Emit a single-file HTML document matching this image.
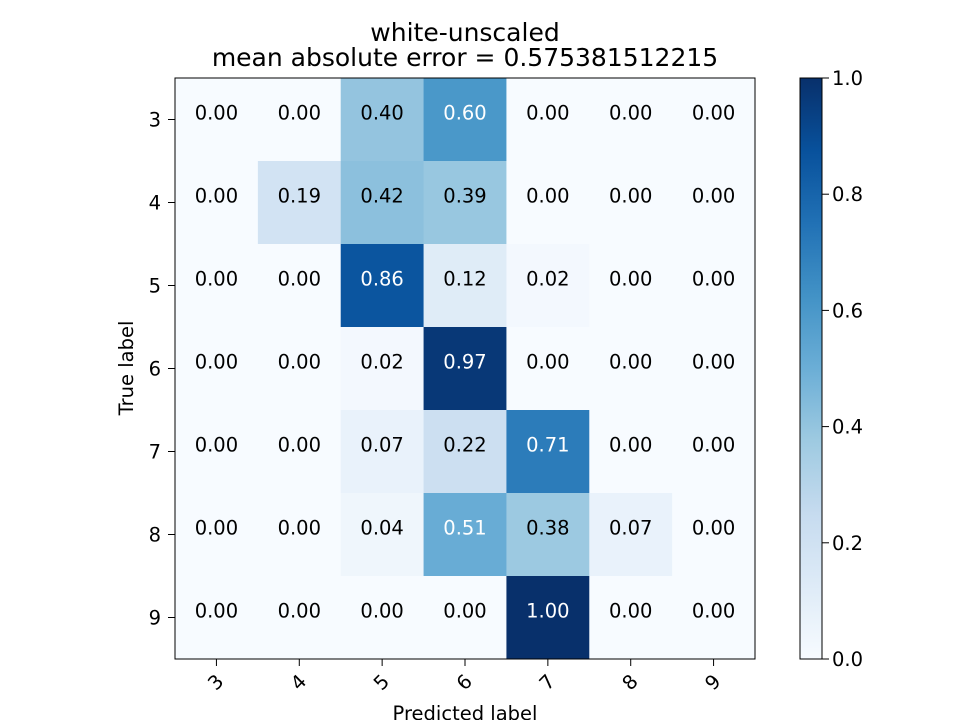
<!DOCTYPE html>
<html><head><meta charset="utf-8"><style>
html,body{margin:0;padding:0;background:#fff;}
svg{display:block;font-family:"DejaVu Sans","Liberation Sans",sans-serif;}
</style></head><body>
<svg id="chart" width="960" height="720" viewBox="0 0 960 720">
<defs>
<linearGradient id="cbgrad" x1="0" y1="1" x2="0" y2="0">
<stop offset="0" stop-color="#f7fbff"/><stop offset="0.125" stop-color="#deebf7"/>
<stop offset="0.25" stop-color="#c6dbef"/><stop offset="0.375" stop-color="#9ecae1"/>
<stop offset="0.5" stop-color="#6baed6"/><stop offset="0.625" stop-color="#4292c6"/>
<stop offset="0.75" stop-color="#2171b5"/><stop offset="0.875" stop-color="#08519c"/>
<stop offset="1" stop-color="#08306b"/>
</linearGradient>
</defs>
<text x="465" y="41" text-anchor="middle" font-size="25">white-unscaled</text>
<text x="465" y="66" text-anchor="middle" font-size="25">mean absolute error = 0.575381512215</text>
<g id="cells"></g>
<rect x="175" y="78" width="580" height="581" fill="none" stroke="#000" stroke-width="1"/>
<g id="axes"></g>
<text x="465" y="720" text-anchor="middle" font-size="19.5">Predicted label</text>
<text transform="translate(133,368) rotate(-90)" text-anchor="middle" font-size="19.5">True label</text>
<rect x="800" y="78" width="22" height="581" fill="url(#cbgrad)" stroke="#000" stroke-width="1"/>
<g id="cbticks"></g>
</svg>
<script>
const labels = ["3","4","5","6","7","8","9"];
const row3 = [0.00,0.00,0.40,0.60,0.00,0.00,0.00];
const row4 = [0.00,0.19,0.42,0.39,0.00,0.00,0.00];
const row5 = [0.00,0.00,0.86,0.12,0.02,0.00,0.00];
const row6 = [0.00,0.00,0.02,0.97,0.00,0.00,0.00];
const row7 = [0.00,0.00,0.07,0.22,0.71,0.00,0.00];
const row8 = [0.00,0.00,0.04,0.51,0.38,0.07,0.00];
const row9 = [0.00,0.00,0.00,0.00,1.00,0.00,0.00];
const matrix = [row3,row4,row5,row6,row7,row8,row9];
const cbTicks = [0.0,0.2,0.4,0.6,0.8,1.0];

const NS="http://www.w3.org/2000/svg";
const X0=175,Y0=78,W=580,H=581;
const cw=W/labels.length, ch=H/labels.length;
const xPos=i=>X0+i*cw, yPos=i=>Y0+i*ch;
const cbY=v=>659-v*581;
const stops=[[247,251,255],[222,235,247],[198,219,239],[158,202,225],[107,174,214],[66,146,198],[33,113,181],[8,81,156],[8,48,107]];
function blues(v){v=Math.max(0,Math.min(1,v));const p=v*8,i=Math.min(7,Math.floor(p)),f=p-i;
 const a=stops[i],b=stops[i+1];return `rgb(${a.map((c,k)=>Math.round(c+(b[k]-c)*f)).join(",")})`;}
function mk(tag,attrs,parent,text){const e=document.createElementNS(NS,tag);for(const k in attrs)e.setAttribute(k,attrs[k]);if(text!==undefined)e.textContent=text;parent.appendChild(e);return e;}
const cells=document.getElementById("cells"), axes=document.getElementById("axes"), cbt=document.getElementById("cbticks");
const mx=Math.max(...matrix.flat());
matrix.forEach((row,r)=>row.forEach((v,c)=>{
 const rc=mk("rect",{x:xPos(c),y:yPos(r),width:cw+0.5,height:ch+0.5,fill:blues(v)},cells);
 
 
 const t=mk("text",{x:xPos(c)+cw/2,y:yPos(r)+ch/2,"text-anchor":"middle","font-size":"19.5",fill:v>mx/2?"#fff":"#000"},cells,v.toFixed(2));
 
 
}));
labels.forEach((l,i)=>{
 const cx=xPos(i)+cw/2;
 mk("line",{x1:cx,y1:659,x2:cx,y2:666,stroke:"#000"},axes);
 const t=mk("text",{transform:`translate(${cx+4},${687}) rotate(-45)`,"text-anchor":"middle","font-size":"19.5"},axes,l);
 
 
 const cy=yPos(i)+ch/2;
 mk("line",{x1:168,y1:cy,x2:175,y2:cy,stroke:"#000"},axes);
 const ty=mk("text",{x:161,y:cy+7,"text-anchor":"end","font-size":"19.5"},axes,l);
 
 
});
cbTicks.forEach(v=>{
 const y=cbY(v);
 mk("line",{x1:822,y1:y,x2:829,y2:y,stroke:"#000"},cbt);
 const t=mk("text",{x:832,y:y+7,"font-size":"19.5"},cbt,v.toFixed(1));
 
 
});
</script>
</body></html>
